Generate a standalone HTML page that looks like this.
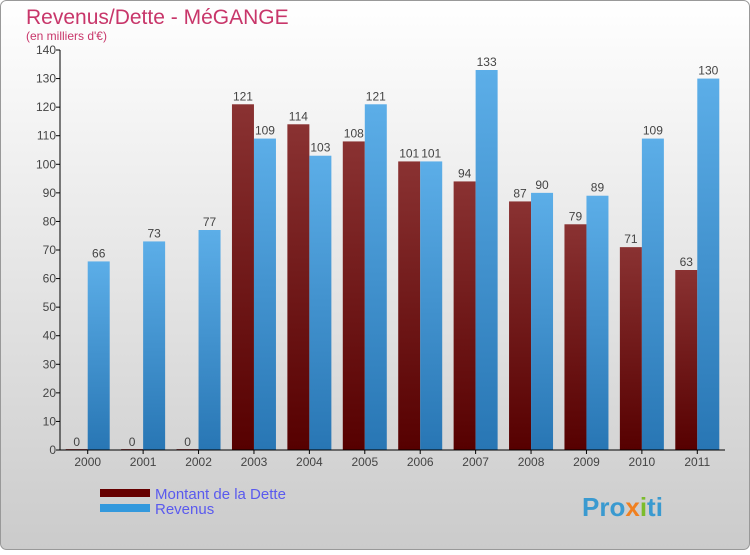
<!DOCTYPE html>
<html><head><meta charset="utf-8"><style>
body{margin:0;width:750px;height:550px;overflow:hidden;font-family:"Liberation Sans",sans-serif}
</style></head><body>
<svg width="750" height="550">
<defs>
<linearGradient id="bg" x1="0" y1="0" x2="0" y2="1"><stop offset="0" stop-color="#ffffff"/><stop offset="1" stop-color="#cbcbcb"/></linearGradient>
<linearGradient id="gd" x1="0" y1="0" x2="0" y2="1"><stop offset="0" stop-color="#8a3232"/><stop offset="1" stop-color="#560000"/></linearGradient>
<linearGradient id="gr" x1="0" y1="0" x2="0" y2="1"><stop offset="0" stop-color="#5caee8"/><stop offset="1" stop-color="#2876b4"/></linearGradient>
</defs>
<rect x="0.5" y="0.5" width="749" height="549" rx="6" fill="url(#bg)" stroke="#999"/>
<text x="26" y="24" font-size="21" fill="#c8366a">Revenus/Dette - MéGANGE</text>
<text x="26" y="40" font-size="12" fill="#c8366a">(en milliers d'€)</text>
<g id="plot"></g>
<rect x="100" y="489" width="50" height="8" fill="#660000"/>
<text x="155" y="499" font-size="15" fill="#5a5aee">Montant de la Dette</text>
<rect x="100" y="504" width="50" height="8" fill="#3399dd"/>
<text x="155" y="514" font-size="15" fill="#5a5aee">Revenus</text>
<text x="582" y="516" font-size="26" font-weight="bold" fill="#3a9ad0">Pro<tspan fill="#f08020">x</tspan><tspan fill="#7cbc2c">i</tspan>ti</text>
</svg>
<script>
const years=["2000","2001","2002","2003","2004","2005","2006","2007","2008","2009","2010","2011"];
const dette=[0,0,0,121,114,108,101,94,87,79,71,63];
const revenus=[66,73,77,109,103,121,101,133,90,89,109,130];
const ticks=[0,10,20,30,40,50,60,70,80,90,100,110,120,130,140];
const NS="http://www.w3.org/2000/svg";
const g=document.getElementById('plot');
const x0=60,x1=725,yb=450,yt=50,max=140;
const bw=(x1-x0)/years.length;
const y=v=>yb-(v/max)*(yb-yt);
function mk(t,a,txt){const e=document.createElementNS(NS,t);for(const k in a)e.setAttribute(k,a[k]);if(txt!==undefined)e.textContent=txt;g.appendChild(e);return e;}
ticks.forEach(t=>{
 const l=mk('line',{x1:x0-4,x2:x0,y1:y(t),y2:y(t),stroke:'#000'});
 
 
 const tx=mk('text',{x:x0-4,y:y(t)+4,'font-size':12,'text-anchor':'end',fill:'#444'},t);
 
 
});
years.forEach((yr,i)=>{
 const c=x0+bw*(i+0.5);
 const vals=[[dette[i],'url(#gd)',c-22,'bar-dette'],[revenus[i],'url(#gr)',c,'bar-revenus']];
 vals.forEach(([v,f,bx,n])=>{
  const h=Math.max(yb-y(v),1);
  const r=mk('rect',{x:bx,y:yb-h,width:22,height:h,fill:v===0?'#9a4a4a':f});
  
  
  const t=mk('text',{x:bx+11,y:y(v)-4,'font-size':12,'text-anchor':'middle',fill:'#444'},v);
  
  
 });
 const tk=mk('line',{x1:c,x2:c,y1:yb,y2:yb+4,stroke:'#000'});
 
 
 const xl=mk('text',{x:c,y:yb+16,'font-size':12,'text-anchor':'middle',fill:'#444'},yr);
 
 
});
const ax=mk('line',{x1:x0,x2:x0,y1:yt,y2:yb,stroke:'#000'});


const axx=mk('line',{x1:x0,x2:x1,y1:yb,y2:yb,stroke:'#000'});


</script>
</body></html>
